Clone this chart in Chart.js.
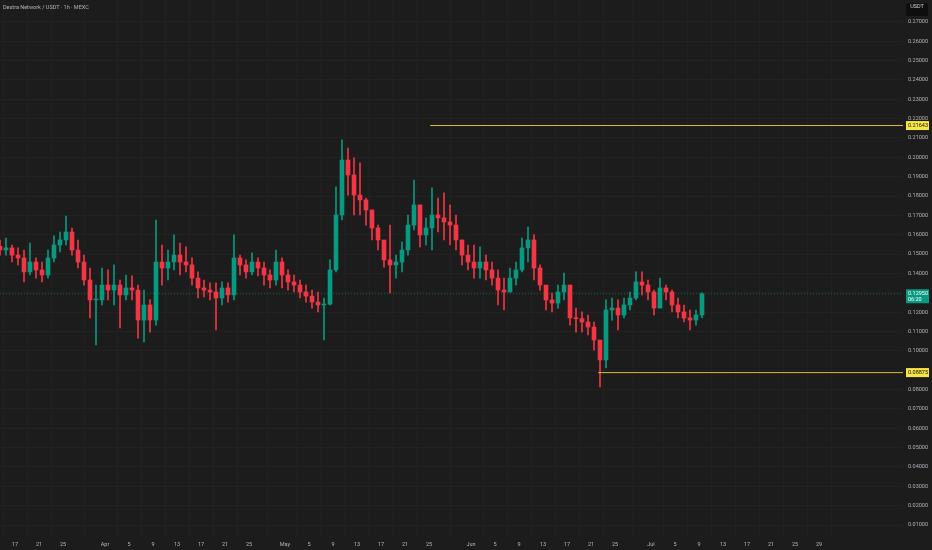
<!DOCTYPE html>
<html>
<head>
<meta charset="utf-8">
<script src="https://cdn.jsdelivr.net/npm/chart.js@4.4.1/dist/chart.umd.min.js"></script>
<style>
	html, body { margin: 0; padding: 0; background: #1c1c1c; }
	#wrap { position: relative; width: 932px; height: 550px; }
	#title { position: absolute; left: 3px; top: 4px; font: 5.5px Roboto, sans-serif; color: #b2b5be; }
	#unit { position: absolute; left: 906px; top: 3px; width: 22px; height: 13px; line-height: 13px;
		background: #0e0e0e; border-radius: 2px; font: 5.5px Roboto, sans-serif; color: #d1d4dc; text-align: center; }
</style>
</head>
<body>
<div id="wrap">
	<canvas id="chart" width="932" height="550"></canvas>
	<div id="title">Destra Network / USDT · 1h · MEXC</div>
	<div id="unit">USDT</div>
</div>
<script>
// day index counted from Mar 1 (0 = Mar 1)
var firstDay = 13;
var firstOpen = 0.1540;

var highs = [
	0.1573, 0.1583, 0.1547, 0.1532, 0.1521, 0.1557, 0.1480, 0.1459, 0.1521, 0.1594,
	0.1614, 0.1697, 0.1635, 0.1573, 0.1495, 0.1428, 0.1340, 0.1428, 0.1418, 0.1444,
	0.1366, 0.1392, 0.1387, 0.1340, 0.1314, 0.1263, 0.1676, 0.1547, 0.1521, 0.1599,
	0.1557, 0.1537, 0.1480, 0.1408, 0.1366, 0.1351, 0.1351, 0.1356, 0.1351, 0.1599,
	0.1495, 0.1470, 0.1506, 0.1480, 0.1459, 0.1418, 0.1521, 0.1480, 0.1418, 0.1392,
	0.1366, 0.1340, 0.1314, 0.1304, 0.1273, 0.1470, 0.1847, 0.2090, 0.2048, 0.1997,
	0.1971, 0.1790, 0.1728, 0.1650, 0.1521, 0.1650, 0.1495, 0.1563, 0.1702, 0.1883,
	0.1754, 0.1687, 0.1842, 0.1790, 0.1816, 0.1754, 0.1702, 0.1573, 0.1547, 0.1547,
	0.1537, 0.1495, 0.1459, 0.1418, 0.1376, 0.1428, 0.1459, 0.1583, 0.1640, 0.1599,
	0.1444, 0.1325, 0.1299, 0.1340, 0.1402, 0.1340, 0.1221, 0.1201, 0.1185, 0.1149,
	0.1030, 0.1263, 0.1273, 0.1263, 0.1273, 0.1304, 0.1408, 0.1408, 0.1366, 0.1314,
	0.1376, 0.1340, 0.1314, 0.1273, 0.1237, 0.1211, 0.1211, 0.1300
];

var lows = [
	0.1495, 0.1495, 0.1459, 0.1444, 0.1356, 0.1392, 0.1376, 0.1356, 0.1376, 0.1459,
	0.1511, 0.1547, 0.1495, 0.1428, 0.1340, 0.1170, 0.1030, 0.1237, 0.1263, 0.1237,
	0.1118, 0.1263, 0.1263, 0.1066, 0.1046, 0.1097, 0.1133, 0.1340, 0.1366, 0.1418,
	0.1392, 0.1408, 0.1340, 0.1273, 0.1278, 0.1263, 0.1108, 0.1237, 0.1252, 0.1263,
	0.1392, 0.1376, 0.1392, 0.1387, 0.1340, 0.1325, 0.1340, 0.1325, 0.1314, 0.1304,
	0.1273, 0.1252, 0.1221, 0.1201, 0.1056, 0.1237, 0.1408, 0.1676, 0.1805, 0.1702,
	0.1702, 0.1650, 0.1573, 0.1521, 0.1433, 0.1299, 0.1376, 0.1408, 0.1495, 0.1625,
	0.1537, 0.1547, 0.1521, 0.1614, 0.1573, 0.1547, 0.1521, 0.1444, 0.1418, 0.1376,
	0.1376, 0.1366, 0.1340, 0.1237, 0.1211, 0.1304, 0.1340, 0.1408, 0.1459, 0.1366,
	0.1314, 0.1211, 0.1201, 0.1221, 0.1263, 0.1133, 0.1097, 0.1097, 0.1082, 0.1004,
	0.0813, 0.0912, 0.1159, 0.1108, 0.1170, 0.1211, 0.1263, 0.1289, 0.1263, 0.1185,
	0.1237, 0.1263, 0.1201, 0.1170, 0.1149, 0.1108, 0.1133, 0.1170
];

var closes = [
	0.1521, 0.1532, 0.1495, 0.1480, 0.1408, 0.1459, 0.1418, 0.1392, 0.1480, 0.1547,
	0.1573, 0.1614, 0.1521, 0.1459, 0.1366, 0.1263, 0.1263, 0.1340, 0.1314, 0.1340,
	0.1289, 0.1325, 0.1314, 0.1159, 0.1237, 0.1159, 0.1459, 0.1428, 0.1459, 0.1495,
	0.1459, 0.1444, 0.1376, 0.1325, 0.1314, 0.1304, 0.1273, 0.1325, 0.1289, 0.1480,
	0.1444, 0.1408, 0.1459, 0.1428, 0.1392, 0.1366, 0.1459, 0.1392, 0.1356, 0.1340,
	0.1304, 0.1283, 0.1252, 0.1237, 0.1241, 0.1418, 0.1702, 0.1986, 0.1909, 0.1805,
	0.1780, 0.1728, 0.1635, 0.1573, 0.1470, 0.1444, 0.1459, 0.1521, 0.1650, 0.1754,
	0.1599, 0.1635, 0.1702, 0.1687, 0.1666, 0.1650, 0.1573, 0.1495, 0.1459, 0.1428,
	0.1459, 0.1418, 0.1376, 0.1314, 0.1304, 0.1376, 0.1418, 0.1532, 0.1573, 0.1428,
	0.1340, 0.1263, 0.1247, 0.1304, 0.1340, 0.1170, 0.1166, 0.1149, 0.1123, 0.1056,
	0.0953, 0.1211, 0.1221, 0.1185, 0.1237, 0.1273, 0.1356, 0.1340, 0.1304, 0.1221,
	0.1325, 0.1304, 0.1237, 0.1201, 0.1170, 0.1159, 0.1185, 0.1295
];

var tickDays = [16, 20, 24, 31, 35, 39, 43, 47, 51, 55, 61, 65, 69, 73, 77, 81, 85,
	92, 96, 100, 104, 108, 112, 116, 122, 126, 130, 134, 138, 142, 146, 150];
var tickLabels = ['17', '21', '25', 'Apr', '5', '9', '13', '17', '21', '25', 'May', '5', '9', '13', '17', '21', '25',
	'Jun', '5', '9', '13', '17', '21', '25', 'Jul', '5', '9', '13', '17', '21', '25', '29'];

var priceTicks = [0.01, 0.02, 0.03, 0.04, 0.05, 0.06, 0.07, 0.08, 0.09, 0.10, 0.11, 0.12, 0.13,
	0.14, 0.15, 0.16, 0.17, 0.18, 0.19, 0.20, 0.21, 0.22, 0.23, 0.24, 0.25, 0.26, 0.27];

var lastPrice = 0.12950;
var countdown = '06:20';
var upperLevel = 0.21643;
var upperFrom = 85.2;
var lowerLevel = 0.08875;
var lowerFrom = 113.2;

var UP = '#089981';
var DOWN = '#f23645';
var YELLOW = '#f7e445';
var LEVEL = '#d9be2e';

var bodies = [];
var wicks = [];
var colors = [];
var open = firstOpen;
for (var i = 0; i < closes.length; i++) {
	var x = firstDay + i + 0.5;
	bodies.push({ x: x, y: [open, closes[i]] });
	wicks.push({ x: x, y: [lows[i], highs[i]] });
	colors.push(closes[i] >= open ? UP : DOWN);
	open = closes[i];
}

var xMin = 13.5;
var xMax = 164;

function tag(ctx, y, bg, fg, lines) {
	var h = lines.length > 1 ? 14 : 9;
	ctx.fillStyle = bg;
	ctx.fillRect(906, y - 4.5, 23, h);
	ctx.fillStyle = fg;
	ctx.font = '5.5px Roboto';
	ctx.textAlign = 'left';
	ctx.textBaseline = 'middle';
	for (var j = 0; j < lines.length; j++) {
		ctx.fillText(lines[j], 908, y + j * 6);
	}
}

var tagsPlugin = {
	id: 'tags',
	afterDraw: function (chart) {
		var ctx = chart.ctx;
		var ys = chart.scales.y;
		ctx.save();
		tag(ctx, ys.getPixelForValue(upperLevel), YELLOW, '#131313', [upperLevel.toFixed(5)]);
		tag(ctx, ys.getPixelForValue(lowerLevel), YELLOW, '#131313', [lowerLevel.toFixed(5)]);
		tag(ctx, ys.getPixelForValue(lastPrice), UP, '#ffffff', [lastPrice.toFixed(5), countdown]);
		ctx.restore();
	}
};

new Chart(document.getElementById('chart'), {
	type: 'bar',
	data: {
		datasets: [
			{
				type: 'line',
				data: [{ x: xMin, y: lastPrice }, { x: xMax, y: lastPrice }],
				borderColor: 'rgba(8, 153, 129, 0.55)',
				borderWidth: 1,
				borderDash: [1, 2],
				pointRadius: 0,
				order: 5
			},
			{
				data: wicks,
				backgroundColor: colors,
				barThickness: 1,
				order: 3
			},
			{
				data: bodies,
				backgroundColor: colors,
				barThickness: 4,
				minBarLength: 1,
				order: 2
			},
			{
				type: 'line',
				data: [{ x: upperFrom, y: upperLevel }, { x: xMax, y: upperLevel }],
				borderColor: LEVEL,
				borderWidth: 1,
				pointRadius: 0,
				order: 1
			},
			{
				type: 'line',
				data: [{ x: lowerFrom, y: lowerLevel }, { x: xMax, y: lowerLevel }],
				borderColor: LEVEL,
				borderWidth: 1,
				pointRadius: 0,
				order: 1
			}
		]
	},
	options: {
		responsive: false,
		animation: false,
		layout: { padding: 0 },
		datasets: { bar: { grouped: false } },
		plugins: {
			legend: { display: false },
			tooltip: { enabled: false }
		},
		scales: {
			x: {
				type: 'linear',
				min: xMin,
				max: xMax,
				offset: false,
				afterBuildTicks: function (scale) {
					scale.ticks = tickDays.map(function (d) { return { value: d }; });
				},
				afterFit: function (scale) {
					scale.height = 13;
					scale.paddingLeft = 0;
					scale.paddingRight = 0;
				},
				grid: { color: 'rgba(255, 255, 255, 0.025)', drawTicks: false },
				border: { display: false },
				ticks: {
					autoSkip: false,
					maxRotation: 0,
					padding: 4,
					color: '#b2b5be',
					font: { family: 'Roboto', size: 5.5 },
					callback: function (value, index) { return tickLabels[index]; }
				}
			},
			y: {
				position: 'right',
				min: 0.0038,
				max: 0.2813,
				afterBuildTicks: function (scale) {
					scale.ticks = priceTicks.map(function (p) { return { value: p }; });
				},
				afterFit: function (scale) {
					scale.width = 29;
					scale.paddingTop = 0;
					scale.paddingBottom = 0;
				},
				grid: { color: 'rgba(255, 255, 255, 0.025)', drawTicks: false },
				border: { display: false },
				ticks: {
					padding: 5,
					color: '#b2b5be',
					font: { family: 'Roboto', size: 5.5 },
					callback: function (value) { return value.toFixed(5); }
				}
			}
		}
	},
	plugins: [tagsPlugin]
});
</script>
</body>
</html>
